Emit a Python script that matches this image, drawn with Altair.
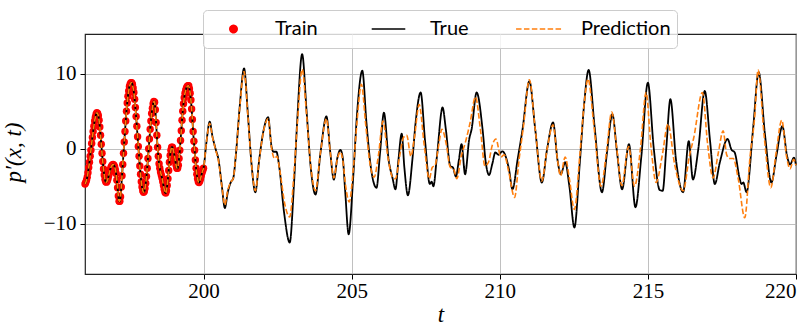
import altair as alt
import pandas as pd

# ---------------- data ----------------
SERIES = ["Train", "True", "Prediction"]

# training samples: t = 196.000, 196.025, ..., 200.000
TRAIN_START = 196.0
TRAIN_STEP = 0.025
TRAIN_Y = [
    -4.7, -4.5, -4.2, -3.8, -3.2, -2.5, -1.8, -1.0, -0.2, 0.7,
    1.5, 2.3, 3.0, 3.7, 4.2, 4.6, 4.8, 4.7, 4.4, 3.8,
    2.9, 1.8, 0.6, -0.6, -1.7, -2.7, -3.5, -4.1, -4.4, -4.45,
    -4.3, -4.0, -3.6, -3.2, -2.8, -2.5, -2.3, -2.15, -2.1, -2.2,
    -2.4, -2.8, -3.3, -4.2, -5.2, -6.3, -7.0, -7.0, -6.4, -5.1,
    -3.6, -2.1, -0.6, 0.9, 2.3, 3.7, 5.0, 6.1, 7.0, 7.7,
    8.3, 8.6, 8.8, 8.8, 8.6, 8.1, 7.5, 6.6, 5.5, 4.3,
    3.0, 1.6, 0.3, -1.0, -2.3, -3.4, -4.4, -5.1, -5.6, -5.8,
    -5.7, -5.3, -4.6, -3.7, -2.6, -1.3, 0.0, 1.3, 2.6, 3.7,
    4.7, 5.4, 6.0, 6.3, 6.2, 5.2, 3.5, 1.8, 0.2, -1.0,
    -2.0, -2.6, -3.1, -3.5, -3.9, -4.4, -4.9, -5.4, -5.8, -5.9,
    -5.6, -4.9, -4.0, -2.9, -1.8, -0.9, -0.2, 0.2, 0.2, -0.1,
    -0.5, -1.0, -1.6, -2.2, -2.6, -2.6, -2.2, -1.3, -0.2, 1.1,
    2.4, 3.8, 5.0, 6.0, 6.8, 7.4, 7.8, 8.1, 8.3, 8.4,
    8.4, 8.0, 7.4, 6.5, 5.3, 3.9, 2.3, 1.0, -0.2, -1.5,
    -2.6, -3.4, -4.0, -4.4, -4.5, -4.3, -4.0, -3.6, -3.2, -2.9,
    -2.6,
]

# true signal after the training window
TRUE_T = [
    200.10, 200.21, 200.30, 200.42, 200.50, 200.62, 200.72, 200.82, 200.93, 201.00,
    201.10, 201.22, 201.37, 201.50, 201.62, 201.75, 201.88, 202.03, 202.18, 202.30,
    202.36, 202.46, 202.56, 202.72, 202.91, 203.05, 203.16, 203.33, 203.48, 203.62,
    203.78, 203.95, 204.15, 204.28, 204.40, 204.52, 204.62, 204.70, 204.78, 204.90,
    205.05, 205.18, 205.36, 205.50, 205.65, 205.84, 205.96, 206.09, 206.25, 206.38,
    206.48, 206.58, 206.69, 206.78, 206.90, 207.05, 207.16, 207.33, 207.48, 207.64,
    207.70, 207.76, 207.88, 208.07, 208.18, 208.33, 208.42, 208.52, 208.62, 208.71,
    208.83, 208.97, 209.05, 209.22, 209.42, 209.53, 209.64, 209.75, 209.85, 209.96,
    210.09, 210.31, 210.43, 210.60, 210.77, 211.00, 211.20, 211.42, 211.60, 211.80,
    211.95, 212.06, 212.21, 212.35, 212.52, 212.70, 212.85, 213.00, 213.20, 213.45,
    213.62, 213.80, 213.96, 214.13, 214.36, 214.58, 214.78, 215.00, 215.20, 215.40,
    215.50, 215.62, 215.76, 215.95, 216.19, 216.38, 216.52, 216.70, 216.92, 217.10,
    217.26, 217.43, 217.69, 217.82, 217.93, 218.10, 218.16, 218.22, 218.33, 218.55,
    218.74, 218.95, 219.17, 219.34, 219.54, 219.70, 219.80, 219.93, 220.00,
]
TRUE_Y = [
    0.9, 3.6, 1.7, -0.2, -1.3, -5.0, -7.9, -5.8, -4.4, -4.0,
    -0.5, 5.5, 10.7, 4.5, -2.0, -5.8, -1.5, 2.5, 4.2, 0.2,
    -0.4, -0.4, -2.5, -8.5, -12.5, -5.0, 3.5, 12.6, 5.0, -2.5,
    -6.1, -0.5, 4.3, -0.5, -4.1, -1.2, -0.15, -1.2, -5.5, -11.4,
    -4.0, 4.5, 10.4, 3.5, -2.5, -5.2, -0.5, 4.8, -1.5, -3.9,
    -5.4, -1.5, 2.0, -2.5, -6.2, -1.5, 3.5, 7.5, 1.0, -4.7,
    -4.4, -5.0, -1.0, 5.5, 2.6, -2.3, -2.5, -3.7, -1.5, 0.6,
    -3.4, 1.3, 2.6, 7.5, 2.6, -1.9, -3.5, -2.0, -0.5, -0.8,
    -0.35, -2.7, -5.4, -1.5, 2.6, 9.0, 2.5, -4.5, 0.0, 3.5,
    -1.5, -3.4, -1.8, -5.0, -10.5, -2.0, 6.0, 10.5, 3.0, -5.8,
    -0.5, 4.6, -0.5, -5.4, 0.6, -7.8, -1.0, 8.8, 0.0, -5.5,
    -5.6, 0.0, 6.6, -1.5, -5.8, 1.0, -4.1, -0.1, 7.7, 1.0,
    -4.7, -1.8, 1.3, -0.1, -0.5, -4.0, -4.7, -4.5, -5.8, 2.6,
    10.2, 2.0, -4.5, -0.9, 3.0, -1.0, -2.1, -1.2, -2.2,
]

# network prediction after the training window
PRED_T = [
    200.10, 200.21, 200.30, 200.42, 200.50, 200.62, 200.72, 200.82, 200.93, 201.00,
    201.10, 201.22, 201.37, 201.50, 201.62, 201.75, 201.88, 202.03, 202.18, 202.30,
    202.40, 202.48, 202.58, 202.75, 202.91, 203.05, 203.17, 203.33, 203.48, 203.62,
    203.78, 203.95, 204.15, 204.28, 204.40, 204.52, 204.62, 204.70, 204.80, 204.92,
    205.06, 205.18, 205.33, 205.48, 205.62, 205.76, 205.90, 206.06, 206.22, 206.38,
    206.48, 206.62, 206.75, 206.86, 207.00, 207.12, 207.28, 207.45, 207.62, 207.72,
    207.82, 207.92, 208.05, 208.20, 208.32, 208.45, 208.55, 208.70, 208.85, 209.00,
    209.18, 209.35, 209.50, 209.62, 209.75, 209.87, 210.04, 210.15, 210.30, 210.50,
    210.65, 210.80, 211.00, 211.20, 211.42, 211.60, 211.80, 211.95, 212.05, 212.21,
    212.35, 212.52, 212.70, 212.85, 212.98, 213.18, 213.42, 213.60, 213.78, 213.95,
    214.12, 214.35, 214.55, 214.75, 214.94, 215.10, 215.28, 215.48, 215.68, 215.90,
    216.19, 216.40, 216.55, 216.84, 217.02, 217.20, 217.38, 217.54, 217.66, 217.75,
    217.88, 218.05, 218.27, 218.45, 218.60, 218.72, 218.93, 219.15, 219.33, 219.52,
    219.68, 219.80, 219.92, 220.00,
]
PRED_Y = [
    0.9, 3.4, 1.6, -0.3, -1.5, -5.0, -7.5, -5.5, -4.4, -4.0,
    -0.5, 5.3, 10.3, 4.3, -2.0, -5.6, -1.5, 2.4, 4.0, 0.0,
    -1.3, -1.0, -3.0, -7.5, -9.1, -3.5, 3.5, 10.6, 4.5, -2.3,
    -5.6, -0.5, 4.0, -0.5, -3.9, -1.3, -0.4, -1.5, -5.0, -7.1,
    -2.5, 3.5, 8.6, 3.0, -2.0, -3.8, -1.0, 3.7, -1.0, -3.8,
    -4.0, -1.0, 1.5, 1.8, -1.0, 1.5, 5.9, 0.5, -4.0, -2.5,
    -2.2, 0.0, 2.6, 0.5, -2.4, -2.8, -4.0, -1.0, 1.0, 3.5,
    6.9, 2.5, -2.3, -1.8, 0.5, 1.3, -1.1, -0.8, -3.0, -6.5,
    -1.5, 3.0, 9.2, 2.5, -4.3, 0.0, 3.2, -1.5, -3.6, -1.1,
    -4.0, -8.1, -1.0, 6.0, 9.3, 3.0, -5.0, -0.5, 4.9, 0.0,
    -4.9, 0.3, -5.0, 0.0, 7.5, 0.5, -4.5, -1.0, 3.3, -2.0,
    -5.6, -1.0, 1.5, 7.5, 0.5, -3.9, -0.5, 2.4, -0.8, -1.3,
    -1.3, -4.0, -9.2, -1.0, 4.0, 10.5, 1.5, -5.2, -0.5, 3.8,
    -1.0, -2.7, -1.4, -2.2,
]

X_TICKS = [200, 205, 210, 215, 220]
Y_TICKS = [-10, 0, 10]
X_DOMAIN = [196, 220]
Y_DOMAIN = [-16.7, 15.3]

# ---------------- tables ----------------
train_t = [round(TRAIN_START + i * TRAIN_STEP, 3) for i in range(len(TRAIN_Y))]
train_df = pd.DataFrame({"t": train_t, "y": TRAIN_Y, "series": "Train"})
true_df = pd.DataFrame({"t": train_t + TRUE_T, "y": TRAIN_Y + TRUE_Y, "series": "True"})
pred_df = pd.DataFrame({"t": train_t + PRED_T, "y": TRAIN_Y + PRED_Y, "series": "Prediction"})

SERIF = "Liberation Serif"
SANS = "Lato"

color_scale = alt.Scale(domain=SERIES, range=["#ff0000", "#000000", "#ff7f0e"])
shape_scale = alt.Scale(domain=SERIES, range=["circle", "stroke", "stroke"])
size_scale = alt.Scale(domain=SERIES, range=[55, 2200, 2200])
dash_scale = alt.Scale(domain=SERIES, range=[[1, 0], [1, 0], [5.5, 2.4]])

x_enc = alt.X(
    "t:Q",
    scale=alt.Scale(domain=X_DOMAIN, nice=False, zero=False),
    axis=alt.Axis(
        values=X_TICKS, title="t", titleFont=SERIF, titleFontStyle="italic",
        titleFontSize=23, titleFontWeight="normal", titleY=47, titleBaseline="alphabetic",
        labelFont=SERIF, labelFontSize=21, labelPadding=1, tickSize=5,
        tickColor="#000", labelColor="#000", domain=False,
        gridColor="#b0b0b0", gridWidth=0.8,
    ),
)
y_enc = alt.Y(
    "y:Q",
    scale=alt.Scale(domain=Y_DOMAIN, nice=False, zero=False),
    axis=alt.Axis(
        values=Y_TICKS, title="p′(x, t)", titleFont=SERIF, titleFontStyle="italic",
        titleFontSize=23, titleFontWeight="normal", titleX=-60, titleY=118,
        titleBaseline="bottom", titleAngle=-90, titleAlign="center",
        labelFont=SERIF, labelFontSize=21, labelPadding=4, tickSize=5,
        tickColor="#000", labelColor="#000", domain=False,
        gridColor="#b0b0b0", gridWidth=0.8,
    ),
)

legend = alt.Legend(
    title=None, orient="none", legendX=118, legendY=-24, direction="horizontal",
    columns=3, clipHeight=26,
    labelFont=SANS, labelFontSize=20, labelColor="#000",
    fillColor="rgba(255,255,255,0.8)", strokeColor="#cccccc", cornerRadius=4,
    padding=6, columnPadding=46, labelOffset=17, symbolStrokeWidth=1.5,
)

points = alt.Chart(train_df).mark_point(filled=True, opacity=1).encode(
    x=x_enc, y=y_enc,
    color=alt.Color("series:N", scale=color_scale, legend=legend),
    shape=alt.Shape("series:N", scale=shape_scale),
    size=alt.Size("series:N", scale=size_scale),
)

true_line = alt.Chart(true_df).mark_line(strokeWidth=1.8, interpolate="monotone").encode(
    x=x_enc, y=y_enc,
    color=alt.Color("series:N", scale=color_scale, legend=legend),
    strokeDash=alt.StrokeDash("series:N", scale=dash_scale),
)

pred_line = alt.Chart(pred_df).mark_line(strokeWidth=1.6, interpolate="monotone").encode(
    x=x_enc, y=y_enc,
    color=alt.Color("series:N", scale=color_scale, legend=legend),
    strokeDash=alt.StrokeDash("series:N", scale=dash_scale),
)

chart = (
    alt.layer(points, true_line, pred_line)
    .properties(
        width=711, height=240,
        autosize=alt.AutoSizeParams(type="none"),
        padding={"left": 85, "top": 34, "right": 14, "bottom": 53},
        background="white",
    )
    .configure_view(stroke="#222222", strokeWidth=1.2)
)

chart.save("out.html", embed_options={"renderer": "svg", "actions": False})
